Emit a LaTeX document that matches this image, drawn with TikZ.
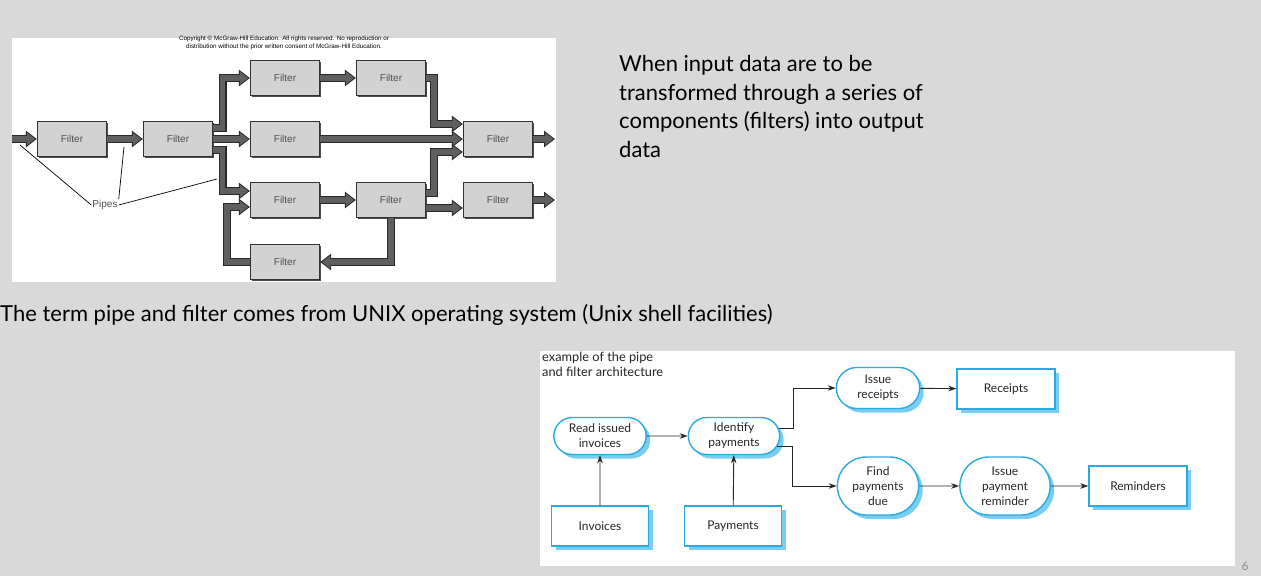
\documentclass[tikz,border=0pt]{standalone}
\usepackage{fontspec}
\setmainfont{Lato}
\newfontfamily\mhfont{Liberation Sans}
\usetikzlibrary{arrows.meta,shapes.misc,shadows}

\definecolor{slidegray}{RGB}{217,217,217}
\definecolor{filtergray}{RGB}{210,210,210}
\definecolor{pipefill}{RGB}{95,95,95}
\definecolor{pipeedge}{RGB}{40,40,40}
\definecolor{procblue}{RGB}{41,171,226}
\definecolor{shadeblue}{RGB}{120,205,240}
\definecolor{labelgray}{RGB}{80,80,80}

\tikzset{
  filterbox/.style={draw=black!80, fill=filtergray, line width=0.8pt, minimum width=69.5pt, minimum height=35pt,
    font=\mhfont\fontsize{10}{12}\selectfont, text=labelgray,
    drop shadow={shadow xshift=1.5pt, shadow yshift=-1.5pt, fill=black!70, opacity=1}},
  pipe/.style={draw=pipefill, line width=5.6pt, -{Triangle[length=8.5pt,width=12.5pt]}, shorten >=1.6pt,
    preaction={draw=pipeedge, line width=8pt, -{Triangle[length=11pt,width=16pt]}, shorten >=0pt}},
  callout/.style={draw=black, line width=0.7pt},
  process/.style={rounded rectangle, draw=procblue, fill=white, line width=1.4pt, align=center,
    font=\fontsize{12}{15}\selectfont, text=black!85,
    drop shadow={shadow xshift=4pt, shadow yshift=-4pt, fill=shadeblue, opacity=1}},
  store/.style={rectangle, draw=procblue, fill=white, line width=1.4pt, minimum width=98pt, minimum height=40pt,
    font=\fontsize{12}{15}\selectfont, text=black!85,
    drop shadow={shadow xshift=4pt, shadow yshift=-4pt, fill=shadeblue, opacity=1}},
  flow/.style={draw=black!85, line width=0.9pt, -{Stealth[length=8pt,width=5.5pt]}},
}

\begin{document}
\begin{tikzpicture}[x=1pt,y=-1pt]
\fill[slidegray] (0,0) rectangle (1261,576);
\useasboundingbox (0,0) rectangle (1261,576);

% first figure
\fill[white] (12,38) rectangle (556,282);
\node[font=\mhfont\fontsize{6.3}{7.5}\selectfont, align=center, inner sep=0] (copy) at (284,43)
{Copyright \copyright{} McGraw-Hill Education. All rights reserved. No reproduction or\\distribution without the prior written consent of McGraw-Hill Education.};

\node[filterbox] (f1) at (72,139) {Filter};
\node[filterbox] (f2) at (178,139) {Filter};
\node[filterbox] (f3a) at (285,78) {Filter};
\node[filterbox] (f3b) at (285,139) {Filter};
\node[filterbox] (f3c) at (285,200) {Filter};
\node[filterbox] (f3d) at (285,262) {Filter};
\node[filterbox] (f4a) at (391,78) {Filter};
\node[filterbox] (f4b) at (391,200) {Filter};
\node[filterbox] (f5a) at (498,139) {Filter};
\node[filterbox] (f5b) at (498,200) {Filter};
\coordinate (in) at (12,139);
\coordinate (out1) at (555,139);
\coordinate (out2) at (555,200);

\draw[pipe] (in) -- (f1);
\draw[pipe] (f1) -- (f2);
\draw[pipe] ([yshift=11pt]f2.east) -- ++(9.5,0) |- (f3a);
\draw[pipe] (f2) -- (f3b);
\draw[pipe] ([yshift=-11pt]f2.east) -- ++(9.5,0) |- ([yshift=9pt]f3c.west);
\draw[pipe] (f3d.west) -- ++(-23,0) |- ([yshift=-7pt]f3c.west);
\draw[pipe] (f3a) -- (f4a);
\draw[pipe] (f3c) -- (f4b);
\draw[pipe] (f4a.east) -- ++(8,0) |- ([yshift=15pt]f5a.west);
\draw[pipe] (f3b) -- (f5a);
\draw[pipe] ([yshift=7pt]f4b.east) -- ++(8,0) |- ([yshift=-13pt]f5a.west);
\draw[pipe] ([yshift=-8pt]f4b.east) -- ([yshift=-8pt]f5b.west);
\draw[pipe] (f4b.south) |- (f3d);
\draw[pipe] (f5a) -- (out1);
\draw[pipe] (f5b) -- (out2);

\node[font=\mhfont\fontsize{10}{12}\selectfont, text=labelgray, inner sep=1pt] (pipes) at (105,205) {Pipes};
\coordinate (p1) at (20,145);
\coordinate (p2) at (124,147);
\coordinate (p3) at (217,179);
\draw[callout] (pipes.west) -- (p1);
\draw[callout] (pipes.north east) -- (p2);
\draw[callout] (pipes.east) -- (p3);

% slide text
\node[anchor=north west, align=left, inner sep=0, font=\fontsize{22}{28.7}\selectfont] (intro) at (619,55)
{When input data are to be\\transformed through a series of\\components (filters) into output\\data};
\node[anchor=base west, inner sep=0, font=\fontsize{22}{28.7}\selectfont] (unix) at (0,321)
{The term pipe and filter comes from UNIX operating system (Unix shell facilities)};

% second figure
\fill[white] (540,351) rectangle (1235,566);
\node[anchor=north west, align=left, inner sep=0, font=\fontsize{12.8}{15}\selectfont, text=black!85] (caption) at (542,352)
{example of the pipe\\and filter architecture};

\node[process, minimum width=99pt, minimum height=37pt] (rd) at (600,436) {Read issued\\invoices};
\node[process, minimum width=98pt, minimum height=37pt] (idp) at (734,436) {Identify\\payments};
\node[process, minimum width=90pt, minimum height=41pt] (isr) at (878,388) {Issue\\receipts};
\node[store] (rcp) at (1006,389) {Receipts};
\node[process, minimum width=88pt, minimum height=58pt] (fpd) at (878,486) {Find\\payments\\due};
\node[process, minimum width=97pt, minimum height=58pt] (ipr) at (1005,486) {Issue\\payment\\reminder};
\node[store] (rem) at (1138,486) {Reminders};
\node[store, minimum width=97pt] (inv) at (600,526) {Invoices};
\node[store, minimum width=97pt] (pay) at (733,526) {Payments};

\draw[flow] (inv) -- (rd);
\draw[flow] (pay) -- (idp);
\draw[flow] (rd) -- (idp);
\draw[flow] ([xshift=-1.8pt,yshift=8pt]idp.east) -- ++(15,0) |- (isr);
\draw[flow] ([xshift=-2.9pt,yshift=-10pt]idp.east) -- ++(15,0) |- (fpd);
\draw[flow] (isr) -- (rcp);
\draw[flow] (fpd) -- (ipr);
\draw[flow] (ipr) -- (rem);

\node[font=\fontsize{12}{14}\selectfont, text=black!45] (pagenum) at (1245,566) {6};
\end{tikzpicture}
\end{document}
